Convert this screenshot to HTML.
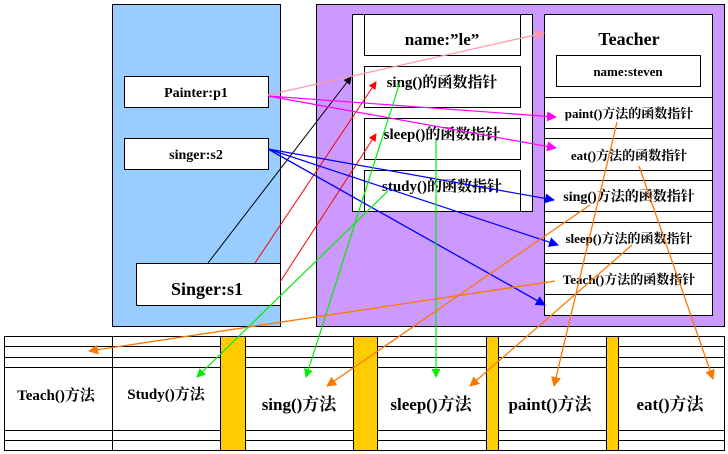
<!DOCTYPE html>
<html><head><meta charset="utf-8"><style>
html,body{margin:0;padding:0;background:#fff;width:728px;height:454px;overflow:hidden}
text{font-family:"Liberation Serif","Noto Serif CJK SC",serif;font-weight:bold;fill:#000}
</style></head><body>
<svg width="728" height="454" viewBox="0 0 728 454" xmlns="http://www.w3.org/2000/svg">
<defs>
<marker id="ak" markerWidth="8" markerHeight="8" refX="7" refY="4" orient="auto" markerUnits="userSpaceOnUse"><path d="M0,0 L8,4 L0,8z" fill="#000"/></marker>
<marker id="ar" markerWidth="8" markerHeight="8" refX="7" refY="4" orient="auto" markerUnits="userSpaceOnUse"><path d="M0,0 L8,4 L0,8z" fill="#f00"/></marker>
<marker id="ap" markerWidth="10" markerHeight="10" refX="9" refY="5" orient="auto" markerUnits="userSpaceOnUse"><path d="M0,0 L10,5 L0,10z" fill="#f9a"/></marker>
<marker id="am" markerWidth="10" markerHeight="10" refX="9" refY="5" orient="auto" markerUnits="userSpaceOnUse"><path d="M0,0 L10,5 L0,10z" fill="#f0f"/></marker>
<marker id="ab" markerWidth="10" markerHeight="10" refX="9" refY="5" orient="auto" markerUnits="userSpaceOnUse"><path d="M0,0 L10,5 L0,10z" fill="#00f"/></marker>
<marker id="ag" markerWidth="9" markerHeight="9" refX="8" refY="4.5" orient="auto" markerUnits="userSpaceOnUse"><path d="M0,0 L9,4.5 L0,9z" fill="#0e0"/></marker>
<marker id="ao" markerWidth="10" markerHeight="10" refX="9" refY="5" orient="auto" markerUnits="userSpaceOnUse"><path d="M0,0 L10,5 L0,10z" fill="#f70"/></marker>
</defs>
<!-- panels -->
<rect x="112.5" y="4.5" width="168" height="322" fill="#99ccff" stroke="#000"/>
<rect x="316.5" y="4.5" width="408" height="322" fill="#cc99ff" stroke="#000"/>
<rect x="124.5" y="76.5" width="144" height="31" fill="#fff" stroke="#000"/>
<text x="196" y="97" font-size="14" text-anchor="middle">Painter:p1</text>
<rect x="124.5" y="138.5" width="144" height="31" fill="#fff" stroke="#000"/>
<text x="196" y="159" font-size="14" text-anchor="middle">singer:s2</text>
<rect x="136.5" y="263.5" width="144" height="42" fill="#fff" stroke="#000"/>
<text x="207" y="295" font-size="18" text-anchor="middle">Singer:s1</text>
<!-- inner left box -->
<rect x="352.5" y="14.5" width="180" height="197" fill="#fff" stroke="#000"/>
<rect x="364.5" y="14.5" width="156" height="41" fill="#fff" stroke="#000"/>
<text x="442" y="45" font-size="17" text-anchor="middle">name:”le”</text>
<rect x="364.5" y="66.5" width="156" height="41" fill="#fff" stroke="#000"/>
<text x="442" y="87" font-size="15" text-anchor="middle">sing()的函数指针</text>
<rect x="364.5" y="118.5" width="156" height="41" fill="#fff" stroke="#000"/>
<text x="442" y="139" font-size="15" text-anchor="middle">sleep()的函数指针</text>
<path d="M364.5 211.5V170.5H520.5V211.5" fill="none" stroke="#000"/>
<text x="442" y="191" font-size="15" text-anchor="middle">study()的函数指针</text>
<!-- teacher -->
<rect x="544.5" y="14.5" width="168" height="301" fill="#fff" stroke="#000"/>
<text x="629" y="45" font-size="18" text-anchor="middle">Teacher</text>
<rect x="556.5" y="55.5" width="144" height="31" fill="#fff" stroke="#000"/>
<text x="628" y="76" font-size="13" text-anchor="middle">name:steven</text>
<g stroke="#000"><line x1="544" y1="97.5" x2="712" y2="97.5"/><line x1="544" y1="128.5" x2="712" y2="128.5"/><line x1="544" y1="138.5" x2="712" y2="138.5"/><line x1="544" y1="170.5" x2="712" y2="170.5"/><line x1="544" y1="180.5" x2="712" y2="180.5"/><line x1="544" y1="211.5" x2="712" y2="211.5"/><line x1="544" y1="222.5" x2="712" y2="222.5"/><line x1="544" y1="253.5" x2="712" y2="253.5"/><line x1="544" y1="263.5" x2="712" y2="263.5"/><line x1="544" y1="294.5" x2="712" y2="294.5"/></g>
<text x="629" y="118" font-size="13" text-anchor="middle">paint()方法的函数指针</text>
<text x="629" y="160" font-size="13" text-anchor="middle">eat()方法的函数指针</text>
<text x="629" y="201" font-size="14" text-anchor="middle">sing()方法的函数指针</text>
<text x="629" y="243" font-size="13" text-anchor="middle">sleep()方法的函数指针</text>
<text x="629" y="284" font-size="13" text-anchor="middle">Teach()方法的函数指针</text>
<!-- bottom table -->
<rect x="220" y="336" width="25" height="114" fill="#fc0"/>
<rect x="353" y="336" width="24" height="114" fill="#fc0"/>
<rect x="486" y="336" width="12" height="114" fill="#fc0"/>
<rect x="606" y="336" width="12" height="114" fill="#fc0"/>
<g stroke="#000" fill="none">
<rect x="4.5" y="336.5" width="720" height="114"/>
<path d="M4 346.5H220M245 346.5H353M377 346.5H486M498 346.5H606M618 346.5H724"/>
<path d="M4 357.5H220M245 357.5H353M377 357.5H486M498 357.5H606M618 357.5H724"/>
<path d="M4 367.5H220M245 367.5H353M377 367.5H486M498 367.5H606M618 367.5H724"/>
<path d="M4 430.5H220M245 430.5H353M377 430.5H486M498 430.5H606M618 430.5H724"/>
<path d="M4 440.5H220M245 440.5H353M377 440.5H486M498 440.5H606M618 440.5H724"/>
<path d="M112.5 336V450M220.5 336V450M245.5 336V450M353.5 336V450M377.5 336V450M486.5 336V450M498.5 336V450M606.5 336V450M618.5 336V450"/>
</g>
<text x="56" y="400" font-size="15" text-anchor="middle">Teach()方法</text>
<text x="166" y="399" font-size="15" text-anchor="middle">Study()方法</text>
<text x="299" y="410" font-size="17" text-anchor="middle">sing()方法</text>
<text x="431" y="410" font-size="17" text-anchor="middle">sleep()方法</text>
<text x="550" y="410" font-size="17" text-anchor="middle">paint()方法</text>
<text x="670" y="410" font-size="17" text-anchor="middle">eat()方法</text>
<!-- arrows -->
<line x1="208" y1="263" x2="351" y2="77" stroke="#000" stroke-width="1" marker-end="url(#ak)"/>
<line x1="255" y1="263" x2="376" y2="82" stroke="#f00" stroke-width="1" marker-end="url(#ar)"/>
<line x1="280" y1="282" x2="376" y2="134" stroke="#f00" stroke-width="1" marker-end="url(#ar)"/>
<line x1="268" y1="95" x2="544" y2="33" stroke="#f9a" stroke-width="1.3" marker-end="url(#ap)"/>
<line x1="268" y1="96" x2="556" y2="117" stroke="#f0f" stroke-width="1.2" marker-end="url(#am)"/>
<line x1="268" y1="96" x2="556" y2="148" stroke="#f0f" stroke-width="1.2" marker-end="url(#am)"/>
<line x1="268" y1="149" x2="554" y2="200" stroke="#00f" stroke-width="1.2" marker-end="url(#ab)"/>
<line x1="268" y1="149" x2="558" y2="245" stroke="#00f" stroke-width="1.2" marker-end="url(#ab)"/>
<line x1="268" y1="149" x2="545" y2="305" stroke="#00f" stroke-width="1.3" marker-end="url(#ab)"/>
<line x1="400" y1="82" x2="306" y2="377" stroke="#0e0" stroke-width="1.2" marker-end="url(#ag)"/>
<line x1="388" y1="191" x2="197" y2="377" stroke="#0e0" stroke-width="1.2" marker-end="url(#ag)"/>
<line x1="436" y1="140" x2="436" y2="377" stroke="#0e0" stroke-width="1.2" marker-end="url(#ag)"/>
<line x1="555" y1="281" x2="89" y2="351" stroke="#f70" stroke-width="1.3" marker-end="url(#ao)"/>
<line x1="590" y1="205" x2="327" y2="386" stroke="#f70" stroke-width="1.3" marker-end="url(#ao)"/>
<line x1="632" y1="245" x2="470" y2="386" stroke="#f70" stroke-width="1.3" marker-end="url(#ao)"/>
<line x1="617" y1="122" x2="554" y2="386" stroke="#f70" stroke-width="1.3" marker-end="url(#ao)"/>
<line x1="639" y1="166" x2="713" y2="379" stroke="#f70" stroke-width="1.3" marker-end="url(#ao)"/>
</svg>
</body></html>
